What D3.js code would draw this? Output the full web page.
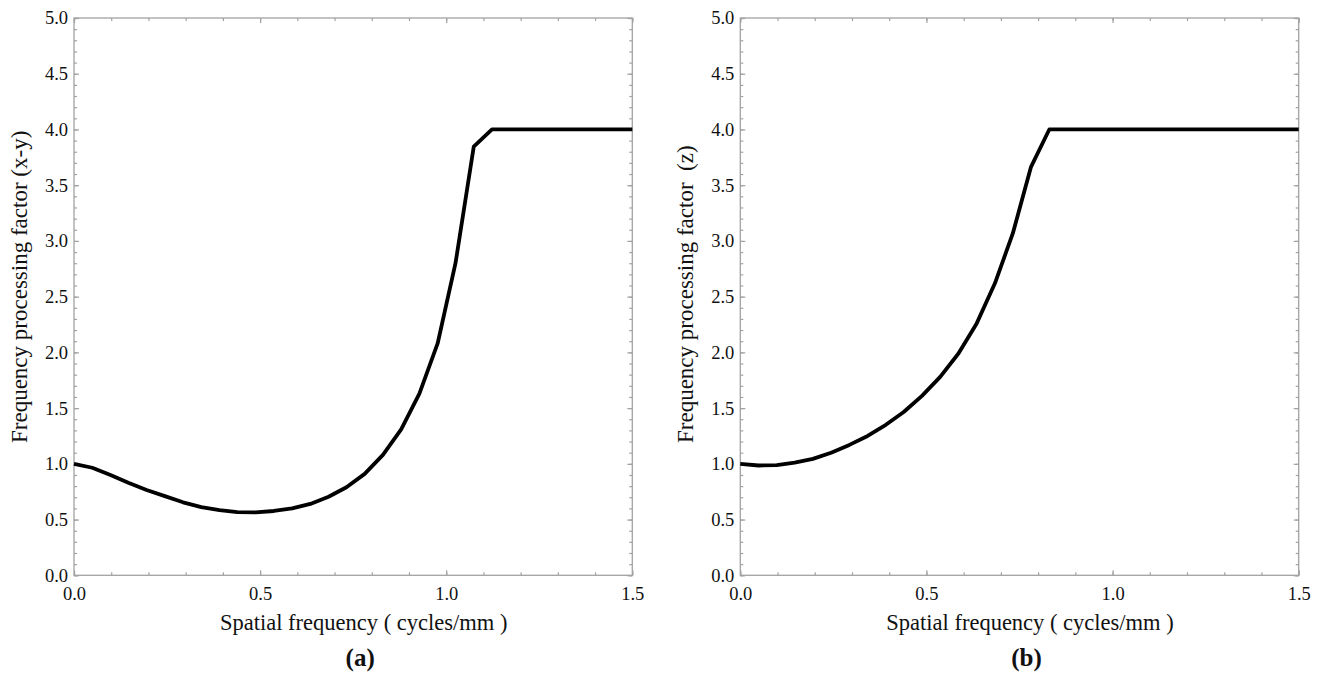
<!DOCTYPE html>
<html><head><meta charset="utf-8">
<script src="https://cdn.jsdelivr.net/npm/d3@7"></script>
<style>
body{margin:0;background:#fff}
text{font-family:"Liberation Serif","Times New Roman",serif;fill:#111}
</style>
</head><body><svg id="c" width="1320" height="676"></svg>
<script>
// ---- data ----
const freqA = [0, 0.049, 0.098, 0.146, 0.195, 0.244, 0.293, 0.342, 0.391, 0.439, 0.488, 0.537,
  0.586, 0.635, 0.684, 0.732, 0.781, 0.830, 0.879, 0.928, 0.977, 1.025, 1.074, 1.123, 1.5];
const factorXY = [1.0, 0.965, 0.90, 0.83, 0.765, 0.71, 0.655, 0.612, 0.585, 0.566, 0.564, 0.577,
  0.60, 0.64, 0.705, 0.79, 0.91, 1.08, 1.31, 1.63, 2.08, 2.80, 3.845, 4.0, 4.0];
const freqB = [0, 0.049, 0.098, 0.146, 0.195, 0.244, 0.293, 0.342, 0.391, 0.439, 0.488, 0.537,
  0.586, 0.635, 0.684, 0.732, 0.781, 0.830, 1.5];
const factorZ = [1.0, 0.985, 0.988, 1.01, 1.045, 1.10, 1.17, 1.25, 1.35, 1.465, 1.61, 1.78,
  1.99, 2.26, 2.62, 3.067, 3.665, 4.0, 4.0];
const xTickLabels = [0, 0.5, 1.0, 1.5];
const yTickLabels = [0, 0.5, 1.0, 1.5, 2.0, 2.5, 3.0, 3.5, 4.0, 4.5, 5.0];
const xTitle = "Spatial frequency ( cycles/mm )";
const yTitles = ["Frequency processing factor (x-y)", "Frequency processing factor  (z)"];
const panelTags = ["(a)", "(b)"];

// ---- layout ----
const svg = d3.select("#c");
svg.append("rect").attr("width", 1320).attr("height", 676).attr("fill", "#fff");
const plotTop = 18, plotBottom = 575.3;
const panels = [
  {left: 74, right: 632.3, xs: freqA, ys: factorXY},
  {left: 740.3, right: 1298.7, xs: freqB, ys: factorZ}
];
const frameColor = "#a2a2a2";
const minorX = d3.range(0, 1.5001, 0.1);
const minorY = d3.range(0, 5.0001, 0.1);
const serif = '"Liberation Serif","Times New Roman",serif';

panels.forEach((p, k) => {
  const x = d3.scaleLinear().domain([0, 1.5]).range([p.left, p.right]);
  const y = d3.scaleLinear().domain([0, 5]).range([plotBottom, plotTop]);
  const g = svg.append("g");

  function tickAxis(axis, tr, vals, len, labels) {
    const a = g.append("g").attr("transform", tr)
      .call(axis.tickValues(vals).tickSizeInner(-len).tickSizeOuter(0)
        .tickPadding(labels ? 9 : 0).tickFormat(labels ? d3.format(".1f") : () => ""));
    a.select(".domain").remove();
    a.selectAll(".tick line").attr("stroke", frameColor).attr("stroke-width", 1.2);
    return a;
  }
  // minor ticks
  tickAxis(d3.axisBottom(x), `translate(0,${plotBottom})`, minorX, 3, false);
  tickAxis(d3.axisTop(x), `translate(0,${plotTop})`, minorX, 3, false);
  tickAxis(d3.axisLeft(y), `translate(${p.left},0)`, minorY, 3, false);
  tickAxis(d3.axisRight(y), `translate(${p.right},0)`, minorY, 3, false);
  // major ticks
  const bx = tickAxis(d3.axisBottom(x), `translate(0,${plotBottom})`, xTickLabels, 5, true);
  tickAxis(d3.axisTop(x), `translate(0,${plotTop})`, xTickLabels, 5, false);
  const ly = tickAxis(d3.axisLeft(y), `translate(${p.left},0)`, yTickLabels, 5, true);
  tickAxis(d3.axisRight(y), `translate(${p.right},0)`, yTickLabels, 5, false);
  bx.selectAll("text").attr("font-size", 18.5).attr("fill", "#000")
    .attr("font-family", serif).attr("y", 11).attr("dy", "0.72em");
  ly.selectAll("text").attr("font-size", 18.5).attr("fill", "#000")
    .attr("font-family", serif).attr("x", -6);

  // frame
  g.append("rect").attr("x", p.left).attr("y", plotTop)
    .attr("width", p.right - p.left).attr("height", plotBottom - plotTop)
    .attr("fill", "none").attr("stroke", frameColor).attr("stroke-width", 1.3);

  // curve
  const line = d3.line().x(d => x(d[0])).y(d => y(d[1])).curve(d3.curveLinear);
  g.append("path").datum(p.xs.map((v, i) => [v, p.ys[i]]))
    .attr("d", line).attr("fill", "none").attr("stroke", "#000")
    .attr("stroke-width", 3.8).attr("stroke-linejoin", "round");

  // titles
  g.append("text").attr("x", p.left + 146).attr("y", 630)
    .attr("font-size", 22.5).attr("fill", "#000").text(xTitle);
  g.append("text").attr("transform", `translate(${p.left - 47.5},443) rotate(-90)`)
    .attr("font-size", 23).attr("fill", "#000").style("white-space", "pre").text(yTitles[k]);
  g.append("text").attr("x", (p.left + p.right) / 2 + 7).attr("y", 666)
    .attr("text-anchor", "middle").attr("font-size", 25).attr("font-weight", "bold")
    .attr("fill", "#000").text(panelTags[k]);
});
</script></body></html>
